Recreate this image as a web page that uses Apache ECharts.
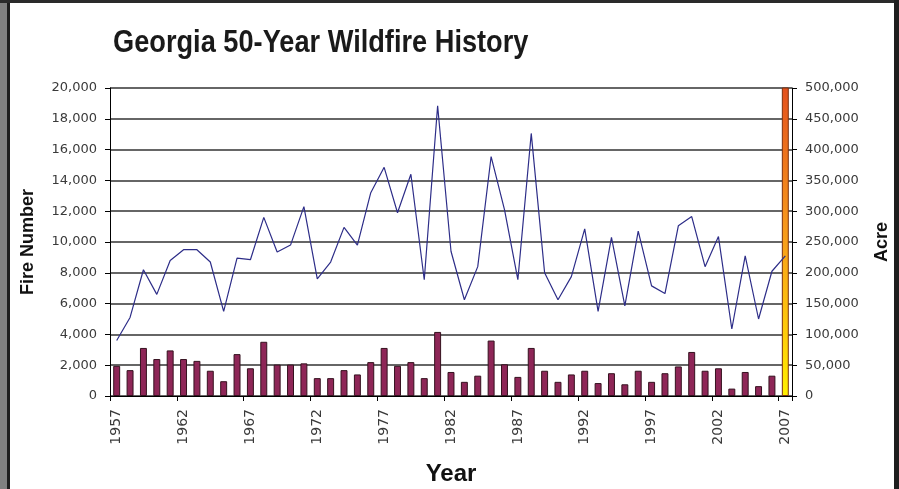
<!DOCTYPE html>
<html>
<head>
<meta charset="utf-8">
<script src="https://cdn.jsdelivr.net/npm/echarts@6/dist/echarts.min.js"></script>
<style>
  html, body { margin: 0; padding: 0; background: #ffffff; }
  #chart { width: 899px; height: 489px; }
</style>
</head>
<body>
<div id="chart"></div>
<script>
// Georgia wildfire history, 1957-2007
const years = [
  '1957','1958','1959','1960','1961','1962','1963','1964','1965','1966',
  '1967','1968','1969','1970','1971','1972','1973','1974','1975','1976',
  '1977','1978','1979','1980','1981','1982','1983','1984','1985','1986',
  '1987','1988','1989','1990','1991','1992','1993','1994','1995','1996',
  '1997','1998','1999','2000','2001','2002','2003','2004','2005','2006',
  '2007'
];

// Number of fires per year (left axis)
const fireNumbers = [
  3600, 5100, 8200, 6600, 8800, 9500, 9500, 8700, 5500, 8950,
  8850, 11600, 9350, 9800, 12300, 7600, 8700, 10950, 9800, 13200,
  14850, 11900, 14400, 7550, 18850, 9400, 6250, 8400, 15550, 12100,
  7550, 17050, 8000, 6250, 7750, 10850, 5500, 10300, 5850, 10700,
  7150, 6650, 11050, 11650, 8400, 10350, 4350, 9100, 5000, 8100,
  9100
];

// Acres burned per year (right axis); 2007 runs off the top of the scale
const acres = [
  49000, 42000, 78000, 60000, 74000, 60000, 57000, 41000, 24000, 68000,
  45000, 88000, 51000, 51000, 53000, 29000, 29000, 42000, 35000, 55000,
  78000, 49000, 55000, 29000, 104000, 39000, 23000, 33000, 90000, 51500,
  31000, 78000, 41000, 23000, 35000, 41000, 21000, 37000, 19000, 41000,
  23000, 37000, 48000, 71500, 41000, 45000, 12000, 39000, 16000, 33000,
  505000
];

const fireTicks = { min: 0, max: 20000, interval: 2000 };
const acreTicks = { min: 0, max: 500000, interval: 50000 };

const chart = echarts.init(document.getElementById('chart'), null, { renderer: 'canvas' });

const numFmt = v => v.toLocaleString('en-US');
const labelFont = { fontFamily: 'DejaVu Sans', fontSize: 13, color: '#3a3a3a' };
const nameFont = { fontFamily: 'Liberation Sans, Arial, sans-serif', fontWeight: 'bold', color: '#111111' };

const hotBar = new echarts.graphic.LinearGradient(0, 0, 0, 1, [
  { offset: 0, color: '#E4511C' },
  { offset: 0.45, color: '#F7981D' },
  { offset: 0.8, color: '#FFCC0A' },
  { offset: 1, color: '#FFF000' }
]);

const acreData = acres.map((v, i) =>
  i === acres.length - 1
    ? { value: v, itemStyle: { color: hotBar, borderColor: '#7a3010' } }
    : v
);

chart.setOption({
  animation: false,
  backgroundColor: '#ffffff',
  grid: { left: 110, right: 107, top: 88, bottom: 93, containLabel: false, outerBoundsMode: 'none' },
  graphic: [
    // page frame
    { type: 'rect', left: 0, top: 0, shape: { width: 7, height: 489 }, style: { fill: '#808080' } },
    { type: 'rect', left: 7, top: 0, shape: { width: 3, height: 489 }, style: { fill: '#1e1e1e' } },
    { type: 'rect', left: 0, top: 0, shape: { width: 899, height: 3 }, style: { fill: '#2a2a2a' } },
    { type: 'rect', left: 894, top: 0, shape: { width: 5, height: 489 }, style: { fill: '#1e1e1e' } },
    // chart title
    {
      type: 'text',
      x: 113, y: 43,
      scaleX: 0.85,
      style: {
        text: 'Georgia 50-Year Wildfire History',
        font: 'bold 32px "Liberation Sans", Arial, sans-serif',
        fill: '#1a1a1a',
        textVerticalAlign: 'middle'
      }
    }
  ],
  xAxis: {
    type: 'category',
    data: years,
    boundaryGap: true,
    name: 'Year',
    nameLocation: 'middle',
    nameGap: 66,
    nameTextStyle: Object.assign({ fontSize: 24 }, nameFont),
    axisLine: { lineStyle: { color: '#000000', width: 1 } },
    axisTick: { show: true, interval: 4, length: 5, alignWithLabel: false, lineStyle: { color: '#000000' } },
    axisLabel: { interval: 4, rotate: 90, margin: 13, fontSize: 14, fontFamily: 'DejaVu Sans', color: '#3a3a3a' },
    splitLine: { show: false }
  },
  yAxis: [
    {
      type: 'value',
      min: fireTicks.min, max: fireTicks.max, interval: fireTicks.interval,
      position: 'left',
      name: 'Fire Number',
      nameLocation: 'middle',
      nameRotate: 90,
      nameGap: 73,
      nameTextStyle: Object.assign({ fontSize: 18 }, nameFont),
      axisLine: { show: true, lineStyle: { color: '#000000', width: 1 } },
      axisTick: { show: true, length: 5, lineStyle: { color: '#000000' } },
      axisLabel: Object.assign({ margin: 13, formatter: numFmt }, labelFont),
      splitLine: { show: true, lineStyle: { color: '#333333', width: 1.6 } }
    },
    {
      type: 'value',
      min: acreTicks.min, max: acreTicks.max, interval: acreTicks.interval,
      position: 'right',
      name: 'Acre',
      nameLocation: 'middle',
      nameRotate: 90,
      nameGap: 81,
      nameTextStyle: Object.assign({ fontSize: 18 }, nameFont),
      axisLine: { show: true, lineStyle: { color: '#000000', width: 1 } },
      axisTick: { show: true, length: 5, lineStyle: { color: '#000000' } },
      axisLabel: Object.assign({ margin: 13, formatter: numFmt }, labelFont),
      splitLine: { show: false }
    }
  ],
  series: [
    {
      name: 'Acre',
      type: 'bar',
      yAxisIndex: 1,
      data: acreData,
      barWidth: '52%',
      clip: true,
      itemStyle: { color: '#8E2657', borderColor: '#35121f', borderWidth: 1 },
      z: 2
    },
    {
      name: 'Fire Number',
      type: 'line',
      yAxisIndex: 0,
      data: fireNumbers,
      symbol: 'none',
      lineStyle: { color: '#2d2d88', width: 1.2 },
      z: 3
    }
  ]
});
</script>
</body>
</html>
